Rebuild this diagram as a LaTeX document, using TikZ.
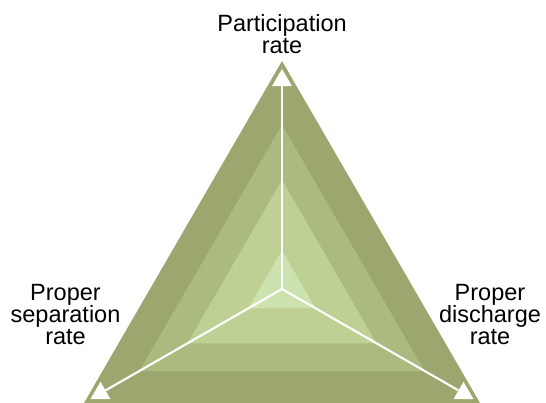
\documentclass[tikz,border=0pt]{standalone}
\usepackage{fontspec}
\setmainfont{Liberation Sans}
\usetikzlibrary{shapes.geometric}
\definecolor{layerA}{HTML}{9BA76E}
\definecolor{layerB}{HTML}{ABBB80}
\definecolor{layerC}{HTML}{BED093}
\definecolor{layerD}{HTML}{CCE2AF}
\lineskiplimit=-20pt
\begin{document}
\begin{tikzpicture}[x=1pt,y=-1pt,
  marker/.style={regular polygon, regular polygon sides=3, minimum size=23pt, inner sep=0pt, fill=white},
  axisline/.style={draw=white, line width=2.1pt},
  lbl/.style={font=\fontsize{23.5}{21.7}\selectfont, align=center, anchor=base, text=black, inner sep=0pt}]
\useasboundingbox (0,0) rectangle (546,403);
\coordinate (c) at (282,289);
\foreach \s/\col in {1/layerA,0.72/layerB,0.478/layerC,0.17/layerD}{
  \begin{scope}[shift={(c)}]
    \fill[\col] (0,-228*\s) -- (-198*\s,114*\s) -- (198*\s,114*\s) -- cycle;
  \end{scope}
}
\node[marker] (mt) at (282,80.4) {};
\node[marker] (ml) at (100.5,393.3) {};
\node[marker] (mr) at (463.5,393.3) {};
\draw[axisline] (c) -- (mt);
\draw[axisline] (c) -- (ml);
\draw[axisline] (c) -- (mr);
\node[lbl] (lt) at (282,53.5) {Participation\\rate};
\node[lbl] (ll) at (65.5,344) {Proper\\separation\\rate};
\node[lbl] (lr) at (490,344) {Proper\\discharge\\rate};
\end{tikzpicture}
\end{document}
